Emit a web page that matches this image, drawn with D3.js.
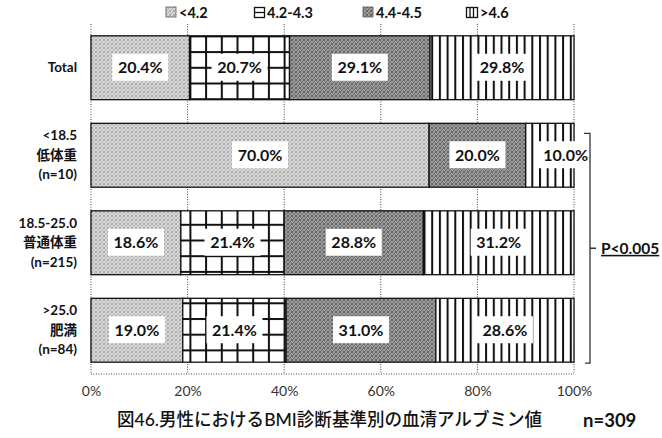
<!DOCTYPE html>
<html>
<head>
<meta charset="utf-8">
<script src="https://cdn.jsdelivr.net/npm/d3@7/dist/d3.min.js"></script>
<style>
  html, body { margin: 0; padding: 0; background: #fff; }
  svg { display: block; }
  text { font-family: Lato, "Noto Sans CJK JP", sans-serif; }
</style>
</head>
<body>
<svg id="chart" width="662" height="438"></svg>
<script>
// Serum albumin class shares (%) by BMI category, men
const categories = [
  ["Total"],
  ["<18.5", "低体重", "(n=10)"],
  ["18.5-25.0", "普通体重", "(n=215)"],
  [">25.0", "肥満", "(n=84)"]
];
const seriesNames = ["<4.2", "4.2-4.3", "4.4-4.5", ">4.6"];
const below42   = [20.4, 70.0, 18.6, 19.0];
const from42to43 = [20.7, 0.0, 21.4, 21.4];
const from44to45 = [29.1, 20.0, 28.8, 31.0];
const above46   = [29.8, 10.0, 31.2, 28.6];
const xTicks = [0, 20, 40, 60, 80, 100];
const titleText = "図46.男性におけるBMI診断基準別の血清アルブミン値";
const sampleText = "n=309";
const pText = "P<0.005";

const seriesValues = [below42, from42to43, from44to45, above46];
const catKeys = categories.map(c => c.join(" "));
const rows = catKeys.map((k, i) => {
  const r = { key: k };
  seriesNames.forEach((s, j) => { r[s] = seriesValues[j][i]; });
  return r;
});

const svg = d3.select("#chart");
const defs = svg.append("defs");

// stipple fills
function stipple(id, light, dark) {
  const p = defs.append("pattern").attr("id", id)
    .attr("patternUnits", "userSpaceOnUse").attr("width", 4).attr("height", 4);
  p.append("rect").attr("width", 4).attr("height", 4).attr("fill", light);
  [[0,0],[2,1],[1,2],[3,3],[3,0],[0,3]].forEach(([x, y]) =>
    p.append("rect").attr("x", x).attr("y", y).attr("width", 1).attr("height", 1).attr("fill", dark));
}
stipple("pLight", "#d8d8d8", "#ababab");
stipple("pDark", "#9a9a9a", "#666");

// square grid fill
const g = defs.append("pattern").attr("id", "pGrid")
  .attr("patternUnits", "userSpaceOnUse").attr("width", 15.7).attr("height", 15.7)
  .attr("x", 1).attr("y", 4);
g.append("rect").attr("width", 15.7).attr("height", 15.7).attr("fill", "#fff");
g.append("rect").attr("x", 0).attr("y", 0).attr("width", 2).attr("height", 15.7).attr("fill", "#111");
g.append("rect").attr("x", 0).attr("y", 0).attr("width", 15.7).attr("height", 2).attr("fill", "#111");

// vertical line fill
const v = defs.append("pattern").attr("id", "pVert")
  .attr("patternUnits", "userSpaceOnUse").attr("width", 7.7).attr("height", 10);
v.append("rect").attr("width", 7.7).attr("height", 10).attr("fill", "#fff");
v.append("rect").attr("x", 0).attr("width", 2).attr("height", 10).attr("fill", "#111");

const fills = ["url(#pLight)", "url(#pGrid)", "url(#pDark)", "url(#pVert)"];

const x = d3.scaleLinear().domain([0, 100]).range([91, 574]);
const y = d3.scaleBand().domain(catKeys).range([24, 374])
  .paddingInner(0.27).paddingOuter(0.135);

// dotted gridlines and frame
const grid = svg.append("g");
grid.selectAll("line.v").data(xTicks).join("line")
  .attr("x1", d => x(d)).attr("x2", d => x(d))
  .attr("y1", 24).attr("y2", 374)
  .attr("stroke", "#444").attr("stroke-width", 1).attr("stroke-dasharray", "1,1.5");
grid.append("line")
  .attr("x1", x(0)).attr("x2", x(100)).attr("y1", 374).attr("y2", 374)
  .attr("stroke", "#444").attr("stroke-width", 1).attr("stroke-dasharray", "1,1.5");

// stacked bars
const stacked = d3.stack().keys(seriesNames)(rows);
const layers = svg.append("g").selectAll("g").data(stacked).join("g")
  .attr("fill", (d, i) => fills[i]);
layers.selectAll("rect").data(d => d.filter(s => s[1] - s[0] > 0)).join("rect")
  .attr("x", d => x(d[0]))
  .attr("width", d => x(d[1]) - x(d[0]))
  .attr("y", d => y(d.data.key))
  .attr("height", y.bandwidth())
  .attr("stroke", "#111").attr("stroke-width", 1.3);

// value labels in white boxes
const boxW = 56, boxH = 27;
const labels = svg.append("g");
stacked.forEach(layer => {
  layer.forEach(s => {
    const val = s[1] - s[0];
    if (val <= 0) return;
    const segW = x(s[1]) - x(s[0]);
    let cx = (x(s[0]) + x(s[1])) / 2;
    if (segW < boxW) cx = x(s[0]) + 12 + boxW / 2;
    const cy = y(s.data.key) + y.bandwidth() / 2 - 0.5;
    labels.append("rect")
      .attr("x", cx - boxW / 2).attr("y", cy - boxH / 2)
      .attr("width", boxW).attr("height", boxH).attr("fill", "#fff");
    labels.append("text")
      .attr("x", cx).attr("y", cy).attr("dy", "0.36em")
      .attr("text-anchor", "middle").attr("font-size", 16).attr("font-weight", 700)
      .attr("fill", "#111")
      .text(val.toFixed(1) + "%");
  });
});

// category axis with stacked multi-line labels
const yAxis = svg.append("g").attr("transform", "translate(77,0)")
  .call(d3.axisLeft(y).tickSize(0).tickPadding(0));
yAxis.select(".domain").remove();
yAxis.selectAll(".tick text").each(function(d) {
  const lines = categories[catKeys.indexOf(d)];
  const t = d3.select(this).text(null)
    .attr("font-size", 13.5).attr("font-weight", 700).attr("fill", "#111")
    .attr("font-family", "Lato, 'Noto Sans CJK JP', sans-serif")
    .attr("dy", null);
  const lh = 19.5;
  lines.forEach((ln, i) => {
    t.append("tspan").attr("x", 0)
      .attr("y", (i - (lines.length - 1) / 2) * lh)
      .attr("dy", "0.35em").text(ln);
  });
});

// percentage axis
const xAxis = svg.append("g").attr("transform", "translate(0,386)")
  .call(d3.axisBottom(x).tickValues(xTicks).tickFormat(d => d + "%").tickSize(0).tickPadding(0));
xAxis.select(".domain").remove();
xAxis.selectAll(".tick text")
  .attr("font-size", 14).attr("fill", "#333")
  .attr("font-family", "Lato, sans-serif").attr("dy", "0.71em");

// legend
const legendX = [166, 254, 363, 466];
const lg = svg.append("g");
seriesNames.forEach((name, i) => {
  const gx = legendX[i], gy = 7;
  const item = lg.append("g").attr("transform", `translate(${gx},${gy})`);
  if (i === 0 || i === 2) {
    item.append("rect").attr("width", 10).attr("height", 10)
      .attr("fill", fills[i]).attr("stroke", "#555").attr("stroke-width", 0.8);
  } else if (i === 1) {
    item.append("rect").attr("x", 0.5).attr("y", 0.5).attr("width", 10).attr("height", 10)
      .attr("fill", "#fff").attr("stroke", "#111").attr("stroke-width", 1.3);
    item.append("line").attr("x1", 0.5).attr("x2", 10.5).attr("y1", 5.5).attr("y2", 5.5)
      .attr("stroke", "#111").attr("stroke-width", 1.3);
  } else {
    item.append("rect").attr("x", 0.5).attr("y", 0.5).attr("width", 11).attr("height", 10)
      .attr("fill", "#fff").attr("stroke", "#111").attr("stroke-width", 1.3);
    [4, 7.5].forEach(lx => item.append("line").attr("x1", lx).attr("x2", lx)
      .attr("y1", 0.5).attr("y2", 10.5).attr("stroke", "#111").attr("stroke-width", 1.3));
  }
  item.append("text").attr("x", i === 3 ? 14 : 13).attr("y", 5.5).attr("dy", "0.36em")
    .attr("font-size", 14.5).attr("font-weight", 700).attr("fill", "#111")
    .text(name);
});

// significance bracket over the three BMI groups
const bTop = y(catKeys[1]) + 10;
const bBot = y(catKeys[3]) + y.bandwidth() + 1;
const bX = 590, bMid = (bTop + bBot) / 2;
svg.append("path")
  .attr("d", `M${bX - 6},${bTop}H${bX}V${bBot}H${bX - 5}M${bX},${bMid}H${bX + 6}`)
  .attr("fill", "none").attr("stroke", "#333").attr("stroke-width", 1.3);
svg.append("text").attr("x", 601).attr("y", bMid).attr("dy", "0.36em")
  .attr("font-size", 15.5).attr("font-weight", 700).attr("fill", "#111")
  .attr("text-decoration", "underline")
  .text(pText);

// caption
svg.append("text").attr("x", 117).attr("y", 420).attr("dy", "0.36em")
  .attr("font-size", 18).attr("font-weight", 500).attr("fill", "#111")
  .attr("font-family", "'Noto Sans CJK JP', sans-serif")
  .attr("textLength", 425).attr("lengthAdjust", "spacingAndGlyphs")
  .text(titleText);
svg.append("text").attr("x", 583).attr("y", 420).attr("dy", "0.36em")
  .attr("font-size", 18.5).attr("font-weight", 700).attr("fill", "#111")
  .text(sampleText);
</script>
</body>
</html>
